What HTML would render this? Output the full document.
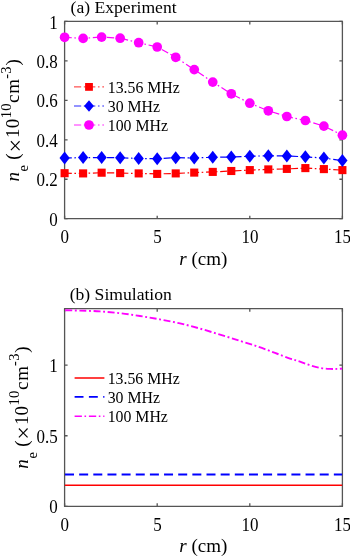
<!DOCTYPE html>
<html><head><meta charset="utf-8"><style>
html,body{margin:0;padding:0;background:#fff;width:350px;height:556px;overflow:hidden}
svg{display:block;will-change:transform}
text{font-family:"Liberation Serif", serif;fill:#000}
.tk{font-size:17px}
.lb{font-size:19px}
.lg{font-size:15.8px}
.tt{font-size:17.6px}
</style></head><body>
<svg width="350" height="556" viewBox="0 0 350 556">
<defs>
<clipPath id="ca"><rect x="54" y="15" width="300" height="210"/></clipPath>
<clipPath id="cb"><rect x="64.6" y="306.7" width="277.79999999999995" height="199.60000000000002"/></clipPath>
</defs>
<path d="M64.6,21.4H342.4V218.7H64.6Z" fill="none" stroke="#555555" stroke-width="1.3" stroke-linejoin="miter"/>
<path d="M64.60,218.7v-3M64.60,21.4v3M157.20,218.7v-3M157.20,21.4v3M249.80,218.7v-3M249.80,21.4v3M342.40,218.7v-3M342.40,21.4v3M64.6,218.70h3M342.4,218.70h-3M64.6,179.24h3M342.4,179.24h-3M64.6,139.78h3M342.4,139.78h-3M64.6,100.32h3M342.4,100.32h-3M64.6,60.86h3M342.4,60.86h-3M64.6,21.40h3M342.4,21.40h-3" stroke="#555555" stroke-width="1.3" fill="none"/>
<text transform="translate(57.80,225.80) scale(1.0,1.09)" text-anchor="end" class="tk">0</text>
<text transform="translate(57.80,186.34) scale(1.0,1.09)" text-anchor="end" class="tk">0.2</text>
<text transform="translate(57.80,146.88) scale(1.0,1.09)" text-anchor="end" class="tk">0.4</text>
<text transform="translate(57.80,107.42) scale(1.0,1.09)" text-anchor="end" class="tk">0.6</text>
<text transform="translate(57.80,67.96) scale(1.0,1.09)" text-anchor="end" class="tk">0.8</text>
<text transform="translate(57.80,28.50) scale(1.0,1.09)" text-anchor="end" class="tk">1</text>
<text transform="translate(64.80,243.00) scale(1.0,1.09)" text-anchor="middle" class="tk">0</text>
<text transform="translate(157.40,243.00) scale(1.0,1.09)" text-anchor="middle" class="tk">5</text>
<text transform="translate(250.00,243.00) scale(1.0,1.09)" text-anchor="middle" class="tk">10</text>
<text transform="translate(342.60,243.00) scale(1.0,1.09)" text-anchor="middle" class="tk">15</text>
<text x="203.30" y="265.30" text-anchor="middle" class="lb"><tspan font-style="italic">r</tspan> (cm)</text>
<text x="70.60" y="12.50" class="tt">(a) Experiment</text>
<g transform="translate(19.3,0) rotate(-90)">
<text x="-176.80" y="0.00" text-anchor="middle" font-size="19" font-style="italic" transform="scale(1,1)">n</text>
<text x="-168.25" y="9.00" text-anchor="middle" font-size="14.5" transform="scale(1,1)">e</text>
<text x="-156.55" y="0.00" text-anchor="middle" font-size="19" transform="scale(1,1)">(</text>
<text x="-145.80" y="3.55" text-anchor="middle" font-size="24" transform="scale(1,1)">×</text>
<text x="-133.25" y="0.00" text-anchor="middle" font-size="19" transform="scale(1,1)">1</text>
<text x="-123.60" y="0.00" text-anchor="middle" font-size="19" transform="scale(1,1)">0</text>
<text x="-114.70" y="-8.70" text-anchor="middle" font-size="14.5" transform="scale(1,1)">1</text>
<text x="-107.15" y="-8.70" text-anchor="middle" font-size="14.5" transform="scale(1,1)">0</text>
<text x="-98.75" y="0.00" text-anchor="middle" font-size="19" transform="scale(1,1)">c</text>
<text x="-86.25" y="0.00" text-anchor="middle" font-size="19" transform="scale(1,1)">m</text>
<text x="-76.45" y="-8.70" text-anchor="middle" font-size="14.5" transform="scale(1,1)">-</text>
<text x="-70.10" y="-8.70" text-anchor="middle" font-size="14.5" transform="scale(1,1)">3</text>
<text x="-62.40" y="0.00" text-anchor="middle" font-size="19" transform="scale(1,1)">)</text>
</g>
<g clip-path="url(#ca)">
<polyline points="64.60,173.20 83.12,173.40 101.64,172.70 120.16,173.10 138.68,173.40 157.20,173.90 175.72,173.40 194.24,172.60 212.76,171.90 231.28,171.00 249.80,170.10 268.32,169.40 286.84,168.90 305.36,168.10 323.88,169.10 342.40,170.10" fill="none" stroke="#ff0000" stroke-width="1.2" stroke-dasharray="7.2 2.6 1.6 2.75" opacity="1.0"/>
<polyline points="64.60,158.00 83.12,157.60 101.64,157.60 120.16,157.70 138.68,158.50 157.20,158.70 175.72,157.70 194.24,157.90 212.76,157.30 231.28,157.10 249.80,156.20 268.32,155.80 286.84,156.00 305.36,156.80 323.88,158.10 342.40,160.60" fill="none" stroke="#0000ff" stroke-width="1.2" stroke-dasharray="7.2 2.6 1.6 2.75" opacity="1.0"/>
<polyline points="64.60,37.30 83.12,38.40 101.64,37.10 120.16,38.20 138.68,42.70 157.20,47.00 175.72,57.30 194.24,69.60 212.76,82.10 231.28,93.80 249.80,103.20 268.32,110.80 286.84,116.50 305.36,120.50 323.88,126.10 342.40,135.20" fill="none" stroke="#ff00ff" stroke-width="1.2" stroke-dasharray="7.2 2.6 1.6 2.75" opacity="1.0"/>
<rect x="60.55" y="169.15" width="8.1" height="8.1" fill="#ff0000"/>
<rect x="79.07" y="169.35" width="8.1" height="8.1" fill="#ff0000"/>
<rect x="97.59" y="168.65" width="8.1" height="8.1" fill="#ff0000"/>
<rect x="116.11" y="169.05" width="8.1" height="8.1" fill="#ff0000"/>
<rect x="134.63" y="169.35" width="8.1" height="8.1" fill="#ff0000"/>
<rect x="153.15" y="169.85" width="8.1" height="8.1" fill="#ff0000"/>
<rect x="171.67" y="169.35" width="8.1" height="8.1" fill="#ff0000"/>
<rect x="190.19" y="168.55" width="8.1" height="8.1" fill="#ff0000"/>
<rect x="208.71" y="167.85" width="8.1" height="8.1" fill="#ff0000"/>
<rect x="227.23" y="166.95" width="8.1" height="8.1" fill="#ff0000"/>
<rect x="245.75" y="166.05" width="8.1" height="8.1" fill="#ff0000"/>
<rect x="264.27" y="165.35" width="8.1" height="8.1" fill="#ff0000"/>
<rect x="282.79" y="164.85" width="8.1" height="8.1" fill="#ff0000"/>
<rect x="301.31" y="164.05" width="8.1" height="8.1" fill="#ff0000"/>
<rect x="319.83" y="165.05" width="8.1" height="8.1" fill="#ff0000"/>
<rect x="338.35" y="166.05" width="8.1" height="8.1" fill="#ff0000"/>
<polygon points="64.60,151.50 69.70,158.00 64.60,164.50 59.50,158.00" fill="#0000ff"/>
<polygon points="83.12,151.10 88.22,157.60 83.12,164.10 78.02,157.60" fill="#0000ff"/>
<polygon points="101.64,151.10 106.74,157.60 101.64,164.10 96.54,157.60" fill="#0000ff"/>
<polygon points="120.16,151.20 125.26,157.70 120.16,164.20 115.06,157.70" fill="#0000ff"/>
<polygon points="138.68,152.00 143.78,158.50 138.68,165.00 133.58,158.50" fill="#0000ff"/>
<polygon points="157.20,152.20 162.30,158.70 157.20,165.20 152.10,158.70" fill="#0000ff"/>
<polygon points="175.72,151.20 180.82,157.70 175.72,164.20 170.62,157.70" fill="#0000ff"/>
<polygon points="194.24,151.40 199.34,157.90 194.24,164.40 189.14,157.90" fill="#0000ff"/>
<polygon points="212.76,150.80 217.86,157.30 212.76,163.80 207.66,157.30" fill="#0000ff"/>
<polygon points="231.28,150.60 236.38,157.10 231.28,163.60 226.18,157.10" fill="#0000ff"/>
<polygon points="249.80,149.70 254.90,156.20 249.80,162.70 244.70,156.20" fill="#0000ff"/>
<polygon points="268.32,149.30 273.42,155.80 268.32,162.30 263.22,155.80" fill="#0000ff"/>
<polygon points="286.84,149.50 291.94,156.00 286.84,162.50 281.74,156.00" fill="#0000ff"/>
<polygon points="305.36,150.30 310.46,156.80 305.36,163.30 300.26,156.80" fill="#0000ff"/>
<polygon points="323.88,151.60 328.98,158.10 323.88,164.60 318.78,158.10" fill="#0000ff"/>
<polygon points="342.40,154.10 347.50,160.60 342.40,167.10 337.30,160.60" fill="#0000ff"/>
<circle cx="64.60" cy="37.30" r="4.85" fill="#ff00ff"/>
<circle cx="83.12" cy="38.40" r="4.85" fill="#ff00ff"/>
<circle cx="101.64" cy="37.10" r="4.85" fill="#ff00ff"/>
<circle cx="120.16" cy="38.20" r="4.85" fill="#ff00ff"/>
<circle cx="138.68" cy="42.70" r="4.85" fill="#ff00ff"/>
<circle cx="157.20" cy="47.00" r="4.85" fill="#ff00ff"/>
<circle cx="175.72" cy="57.30" r="4.85" fill="#ff00ff"/>
<circle cx="194.24" cy="69.60" r="4.85" fill="#ff00ff"/>
<circle cx="212.76" cy="82.10" r="4.85" fill="#ff00ff"/>
<circle cx="231.28" cy="93.80" r="4.85" fill="#ff00ff"/>
<circle cx="249.80" cy="103.20" r="4.85" fill="#ff00ff"/>
<circle cx="268.32" cy="110.80" r="4.85" fill="#ff00ff"/>
<circle cx="286.84" cy="116.50" r="4.85" fill="#ff00ff"/>
<circle cx="305.36" cy="120.50" r="4.85" fill="#ff00ff"/>
<circle cx="323.88" cy="126.10" r="4.85" fill="#ff00ff"/>
<circle cx="342.40" cy="135.20" r="4.85" fill="#ff00ff"/>
</g>
<line x1="74.0" y1="86.9" x2="104.0" y2="86.9" stroke="#ff0000" stroke-width="1" stroke-dasharray="7.2 2.6 1.6 2.75" opacity="0.85"/>
<rect x="85.1" y="83.0" width="7.8" height="7.8" fill="#ff0000"/>
<text x="107.80" y="92.80" class="lg">13.56 MHz</text>
<line x1="74.0" y1="106.0" x2="104.0" y2="106.0" stroke="#0000ff" stroke-width="1" stroke-dasharray="7.2 2.6 1.6 2.75" opacity="0.85"/>
<polygon points="89.0,100.2 93.9,106.0 89.0,111.8 84.1,106.0" fill="#0000ff"/>
<text x="107.80" y="111.90" class="lg">30 MHz</text>
<line x1="74.0" y1="125.0" x2="104.0" y2="125.0" stroke="#ff00ff" stroke-width="1" stroke-dasharray="7.2 2.6 1.6 2.75" opacity="0.85"/>
<circle cx="89.0" cy="125.0" r="4.85" fill="#ff00ff"/>
<text x="107.80" y="130.90" class="lg">100 MHz</text>
<path d="M64.6,308.7H342.4V506.3H64.6Z" fill="none" stroke="#555555" stroke-width="1.3" stroke-linejoin="miter"/>
<path d="M64.60,506.3v-3M64.60,308.7v3M157.20,506.3v-3M157.20,308.7v3M249.80,506.3v-3M249.80,308.7v3M342.40,506.3v-3M342.40,308.7v3M64.6,506.30h3M342.4,506.30h-3M64.6,435.73h3M342.4,435.73h-3M64.6,365.16h3M342.4,365.16h-3" stroke="#555555" stroke-width="1.3" fill="none"/>
<text transform="translate(57.80,513.40) scale(1.0,1.09)" text-anchor="end" class="tk">0</text>
<text transform="translate(57.80,442.83) scale(1.0,1.09)" text-anchor="end" class="tk">0.5</text>
<text transform="translate(57.80,372.26) scale(1.0,1.09)" text-anchor="end" class="tk">1</text>
<text transform="translate(64.80,530.60) scale(1.0,1.09)" text-anchor="middle" class="tk">0</text>
<text transform="translate(157.40,530.60) scale(1.0,1.09)" text-anchor="middle" class="tk">5</text>
<text transform="translate(250.00,530.60) scale(1.0,1.09)" text-anchor="middle" class="tk">10</text>
<text transform="translate(342.60,530.60) scale(1.0,1.09)" text-anchor="middle" class="tk">15</text>
<text x="203.30" y="552.20" text-anchor="middle" class="lb"><tspan font-style="italic">r</tspan> (cm)</text>
<text x="69.70" y="300.30" class="tt">(b) Simulation</text>
<g transform="translate(27.8,0) rotate(-90)">
<text x="-463.90" y="0.00" text-anchor="middle" font-size="19" font-style="italic" transform="scale(1,1)">n</text>
<text x="-455.35" y="9.00" text-anchor="middle" font-size="14.5" transform="scale(1,1)">e</text>
<text x="-443.65" y="0.00" text-anchor="middle" font-size="19" transform="scale(1,1)">(</text>
<text x="-432.90" y="3.55" text-anchor="middle" font-size="24" transform="scale(1,1)">×</text>
<text x="-420.35" y="0.00" text-anchor="middle" font-size="19" transform="scale(1,1)">1</text>
<text x="-410.70" y="0.00" text-anchor="middle" font-size="19" transform="scale(1,1)">0</text>
<text x="-401.80" y="-8.70" text-anchor="middle" font-size="14.5" transform="scale(1,1)">1</text>
<text x="-394.25" y="-8.70" text-anchor="middle" font-size="14.5" transform="scale(1,1)">0</text>
<text x="-385.85" y="0.00" text-anchor="middle" font-size="19" transform="scale(1,1)">c</text>
<text x="-373.35" y="0.00" text-anchor="middle" font-size="19" transform="scale(1,1)">m</text>
<text x="-363.55" y="-8.70" text-anchor="middle" font-size="14.5" transform="scale(1,1)">-</text>
<text x="-357.20" y="-8.70" text-anchor="middle" font-size="14.5" transform="scale(1,1)">3</text>
<text x="-349.50" y="0.00" text-anchor="middle" font-size="19" transform="scale(1,1)">)</text>
</g>
<g clip-path="url(#cb)">
<line x1="64.6" y1="485.2" x2="342.4" y2="485.2" stroke="#ff0000" stroke-width="1.6"/>
<line x1="65.0" y1="474.6" x2="342.4" y2="474.6" stroke="#0000ff" stroke-width="2" stroke-dasharray="9 5.15"/>
<path d="M64.6,310.3C67.17,310.35 74.10,310.42 80,310.6C85.90,310.78 93.33,310.97 100,311.4C106.67,311.83 113.33,312.43 120,313.2C126.67,313.97 133.33,314.97 140,316.0C146.67,317.03 153.33,318.17 160,319.4C166.67,320.63 173.33,321.87 180,323.4C186.67,324.93 193.33,326.73 200,328.6C206.67,330.47 213.33,332.55 220,334.6C226.67,336.65 233.67,338.90 240,340.9C246.33,342.90 252.17,344.60 258,346.6C263.83,348.60 269.67,350.90 275,352.9C280.33,354.90 285.83,357.15 290,358.6C294.17,360.05 296.67,360.48 300,361.6C303.33,362.72 306.67,364.25 310,365.3C313.33,366.35 316.67,367.30 320,367.9C323.33,368.50 327.17,368.73 330,368.9C332.83,369.07 334.93,368.95 337,368.9C339.07,368.85 341.50,368.65 342.4,368.6" fill="none" stroke="#ff00ff" stroke-width="1.9" stroke-dasharray="7 2.6 1.9 2.63" stroke-dashoffset="-0.7"/>
</g>
<line x1="74.6" y1="378.0" x2="104.4" y2="378.0" stroke="#ff0000" stroke-width="1.5" stroke-dasharray="none"/>
<text x="107.70" y="383.80" class="lg">13.56 MHz</text>
<line x1="74.6" y1="396.9" x2="104.4" y2="396.9" stroke="#0000ff" stroke-width="1.6" stroke-dasharray="8.9 5.4"/>
<text x="107.70" y="402.70" class="lg">30 MHz</text>
<line x1="74.6" y1="416.2" x2="104.4" y2="416.2" stroke="#ff00ff" stroke-width="1.5" stroke-dasharray="7.3 2.6 1.6 2.8"/>
<text x="107.70" y="422.00" class="lg">100 MHz</text>
</svg>
</body></html>
